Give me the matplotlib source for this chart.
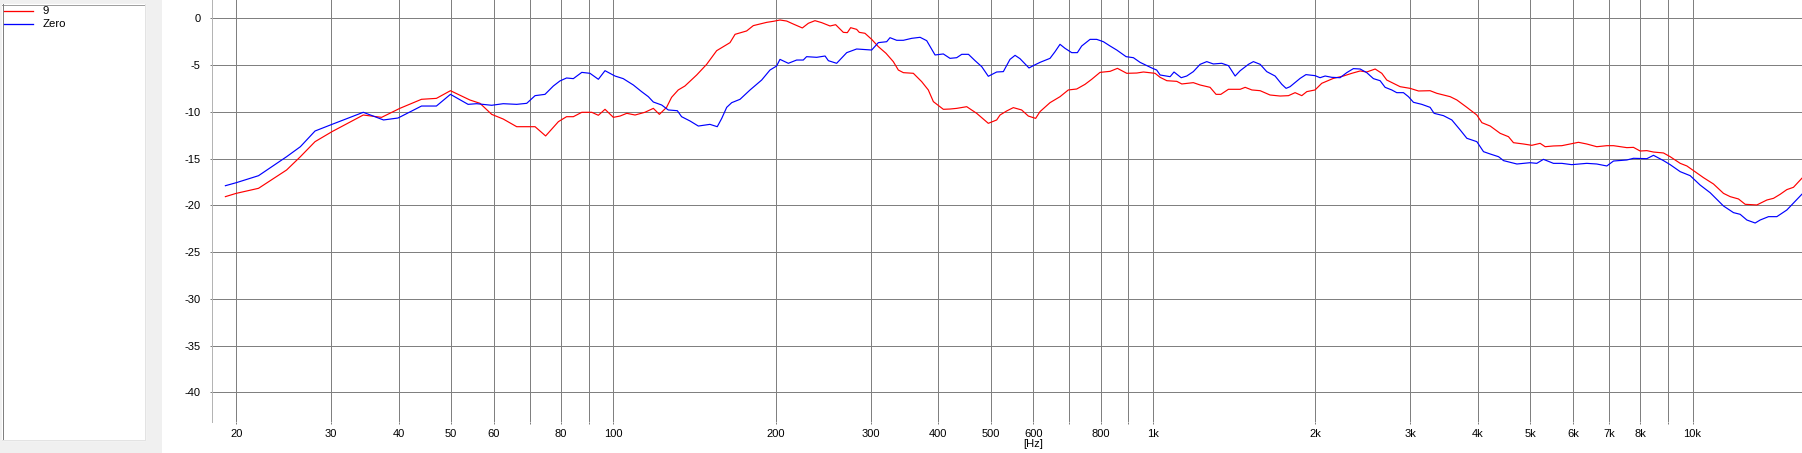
import matplotlib
matplotlib.use('Agg')
import matplotlib.pyplot as plt
import matplotlib.ticker as ticker
from matplotlib.patches import Rectangle

plt.rcParams['font.family'] = ['Liberation Sans', 'DejaVu Sans']

# series "9" (red)
freq_9 = [
    19.1, 20.0, 22.0, 24.8, 26.3, 28.0, 30.1, 34.4, 37.2, 40.2,
    44.1, 47.0, 49.9, 54.2, 56.6, 59.5, 62.5, 66.2, 71.6, 74.9,
    79.1, 81.9, 84.3, 87.4, 91.2, 93.8, 96.5, 100.0, 102.9, 105.9,
    109.7, 114.4, 118.6, 121.7, 125.5, 128.2, 131.9, 135.7, 142.7, 148.9,
    155.4, 164.5, 168.1, 176.6, 181.7, 192.4, 197.9, 203.6, 209.5, 215.5,
    224.0, 229.8, 236.4, 243.2, 252.1, 258.2, 266.8, 271.4, 275.3, 282.4,
    285.6, 292.6, 301.1, 309.8, 320.1, 330.2, 337.4, 344.7, 359.7, 372.7,
    383.4, 391.8, 408.8, 420.6, 432.8, 451.7, 471.3, 495.3, 513.3, 520.7,
    535.6, 551.1, 571.0, 587.5, 606.2, 617.5, 644.5, 672.6, 696.9, 722.2,
    748.3, 770.0, 797.8, 832.8, 859.3, 894.2, 933.3, 960.2, 1009, 1031,
    1061, 1107, 1131, 1188, 1223, 1276, 1309, 1336, 1380, 1451,
    1482, 1525, 1580, 1648, 1720, 1783, 1834, 1887, 1928, 1997,
    2055, 2160, 2254, 2336, 2421, 2490, 2581, 2655, 2712, 2790,
    2871, 2996, 3105, 3263, 3358, 3555, 3657, 3817, 3983, 4070,
    4217, 4400, 4559, 4657, 4860, 5036, 5218, 5331, 5523, 5724,
    5930, 6145, 6367, 6645, 6936, 7136, 7554, 7771, 7996, 8227,
    8464, 8834, 9089, 9487, 9761, 10042, 10478, 10935, 11411, 11741,
    12166, 12518, 13156, 13730, 14126, 14532, 14951, 15382, 15940,
]
db_9 = [
    -19.07, -18.72, -18.18, -16.22, -14.80, -13.19, -12.12, -10.34, -10.59, -9.63,
    -8.66, -8.56, -7.74, -8.73, -9.09, -10.27, -10.77, -11.59, -11.59, -12.58,
    -11.05, -10.52, -10.52, -10.05, -10.05, -10.37, -9.73, -10.59, -10.45, -10.16,
    -10.34, -10.05, -9.63, -10.27, -9.52, -8.45, -7.66, -7.24, -6.06, -4.92,
    -3.46, -2.60, -1.71, -1.35, -0.78, -0.43, -0.32, -0.18, -0.29, -0.61,
    -1.03, -0.53, -0.25, -0.46, -0.82, -0.68, -1.50, -1.53, -1.00, -1.18,
    -1.50, -1.60, -2.25, -3.03, -3.74, -4.63, -5.53, -5.81, -5.88, -6.77,
    -7.66, -8.91, -9.73, -9.70, -9.63, -9.45, -10.16, -11.23, -10.87, -10.34,
    -9.91, -9.55, -9.80, -10.45, -10.70, -9.98, -9.02, -8.38, -7.66, -7.56,
    -7.06, -6.52, -5.78, -5.67, -5.35, -5.88, -5.85, -5.74, -5.88, -6.31,
    -6.67, -6.74, -7.02, -6.88, -7.13, -7.38, -8.13, -8.13, -7.59, -7.59,
    -7.38, -7.66, -7.74, -8.20, -8.31, -8.27, -7.95, -8.27, -7.84, -7.66,
    -6.95, -6.42, -6.17, -5.88, -5.63, -5.74, -5.42, -5.88, -6.60, -6.95,
    -7.31, -7.49, -7.77, -7.74, -8.02, -8.38, -8.73, -9.52, -10.34, -11.16,
    -11.52, -12.30, -12.66, -13.30, -13.44, -13.58, -13.37, -13.73, -13.65, -13.62,
    -13.44, -13.26, -13.44, -13.73, -13.62, -13.62, -13.83, -13.80, -14.19, -14.15,
    -14.30, -14.40, -14.80, -15.51, -15.79, -16.29, -17.04, -17.72, -18.72, -19.07,
    -19.32, -19.89, -19.96, -19.43, -19.25, -18.82, -18.32, -18.07, -17.11,
]

# series "Zero" (blue)
freq_zero = [
    19.1, 20.0, 22.0, 24.8, 26.3, 28.0, 30.1, 34.4, 37.5, 39.9,
    44.1, 47.0, 49.9, 53.8, 55.8, 59.5, 62.5, 66.2, 69.1, 71.6,
    74.7, 77.4, 79.6, 81.9, 84.3, 87.4, 90.5, 93.8, 96.5, 100.7,
    104.3, 108.9, 112.8, 116.1, 118.6, 122.9, 126.4, 131.4, 133.8, 138.7,
    143.7, 151.0, 155.8, 158.8, 162.2, 165.7, 171.7, 179.2, 188.3, 195.1,
    200.7, 203.6, 211.0, 218.6, 224.9, 228.1, 238.1, 246.8, 250.3, 259.3,
    270.7, 282.4, 301.1, 309.8, 321.0, 325.6, 335.0, 344.7, 357.2, 370.2,
    380.8, 394.6, 408.8, 420.6, 432.8, 442.2, 455.1, 468.1, 481.6, 495.3,
    513.3, 528.1, 543.3, 555.2, 566.9, 589.2, 600.2, 617.5, 644.5, 658.4,
    672.6, 687.2, 707.0, 724.3, 737.8, 764.6, 786.6, 809.3, 832.8, 856.8,
    891.7, 919.9, 946.5, 994.9, 1016, 1031, 1076, 1094, 1128, 1155,
    1188, 1223, 1258, 1294, 1341, 1380, 1420, 1451, 1503, 1535,
    1580, 1625, 1684, 1733, 1765, 1795, 1874, 1921, 1997, 2040,
    2085, 2145, 2222, 2286, 2352, 2421, 2490, 2562, 2636, 2693,
    2770, 2830, 2912, 2975, 3039, 3149, 3263, 3319, 3455, 3580,
    3710, 3817, 3983, 4098, 4217, 4370, 4464, 4726, 5000, 5144,
    5292, 5523, 5724, 5972, 6367, 6645, 6936, 7136, 7554, 7771,
    8227, 8464, 8834, 9089, 9487, 9900, 10328, 10780, 11411, 11908,
    12252, 12608, 13062, 13344, 13828, 14328, 14951, 15940,
]
db_zero = [
    -17.90, -17.58, -16.83, -14.80, -13.73, -12.05, -11.34, -10.05, -10.87, -10.66,
    -9.38, -9.38, -8.13, -9.20, -9.13, -9.30, -9.13, -9.20, -9.09, -8.27,
    -8.13, -7.24, -6.70, -6.38, -6.45, -5.78, -5.88, -6.52, -5.60, -6.17,
    -6.45, -7.13, -7.84, -8.38, -8.95, -9.27, -9.80, -9.88, -10.52, -10.98,
    -11.52, -11.34, -11.59, -10.70, -9.52, -9.02, -8.66, -7.66, -6.60, -5.53,
    -5.10, -4.39, -4.81, -4.46, -4.46, -4.10, -4.17, -4.03, -4.53, -4.81,
    -3.67, -3.28, -3.39, -2.60, -2.50, -2.07, -2.35, -2.35, -2.14, -2.03,
    -2.39, -3.92, -3.81, -4.28, -4.21, -3.85, -3.85, -4.53, -5.17, -6.20,
    -5.74, -5.70, -4.39, -3.96, -4.31, -5.31, -5.06, -4.71, -4.28, -3.57,
    -2.78, -3.21, -3.67, -3.67, -2.96, -2.25, -2.25, -2.50, -2.96, -3.39,
    -4.10, -4.21, -4.71, -5.31, -5.53, -6.06, -6.24, -5.74, -6.35, -6.17,
    -5.70, -4.92, -4.63, -4.88, -4.81, -5.06, -6.17, -5.60, -4.92, -4.63,
    -4.92, -5.70, -6.17, -7.06, -7.49, -7.31, -6.42, -6.02, -6.13, -6.35,
    -6.17, -6.31, -6.35, -5.81, -5.38, -5.42, -5.81, -6.45, -6.67, -7.38,
    -7.66, -7.95, -7.95, -8.38, -8.98, -9.20, -9.52, -10.16, -10.41, -10.87,
    -11.94, -12.83, -13.19, -14.26, -14.51, -14.80, -15.22, -15.58, -15.44, -15.51,
    -15.08, -15.51, -15.51, -15.65, -15.51, -15.58, -15.79, -15.26, -15.15, -14.97,
    -15.01, -14.65, -15.22, -15.65, -16.40, -16.83, -17.83, -18.65, -20.07, -20.78,
    -20.96, -21.57, -21.89, -21.57, -21.21, -21.21, -20.50, -18.82,
]

series_names = ['9', 'Zero']
series_colors = ['#ff0000', '#0000ff']

x_ticks = [20, 30, 40, 50, 60, 70, 80, 90, 100, 200, 300, 400, 500, 600, 700,
           800, 900, 1000, 2000, 3000, 4000, 5000, 6000, 7000, 8000, 9000, 10000]
x_tick_labels = ['20', '30', '40', '50', '60', '', '80', '', '100', '200', '300',
                 '400', '500', '600', '', '800', '', '1k', '2k', '3k', '4k', '5k',
                 '6k', '7k', '8k', '', '10k']
y_ticks = [0, -5, -10, -15, -20, -25, -30, -35, -40]

W, H = 1802, 453
PX = 0.72  # one pixel in points at dpi 100

fig = plt.figure(figsize=(W / 100, H / 100), dpi=100)
fig.patch.set_facecolor('white')

# left side panel with the legend list
side = fig.add_axes([0, 0, 162 / W, 1])
side.set_xlim(0, 162)
side.set_ylim(H, 0)
side.axis('off')
side.add_patch(Rectangle((0, 0), 162, H, color='#f0f0f0', zorder=0))
side.add_patch(Rectangle((2, 4), 143, 435.5, color='white', zorder=1))
side.plot([2, 145], [4.5, 4.5], color='#a0a0a0', lw=PX, zorder=2)
side.plot([2.5, 2.5], [4, 439.5], color='#808080', lw=PX, zorder=2)
side.plot([145, 145], [4, 439.5], color='#e3e3e3', lw=PX, zorder=2)
side.plot([2, 145], [439.5, 439.5], color='#e3e3e3', lw=PX, zorder=2)
side.plot([161.5, 161.5], [0, H], color='#a0a0a0', lw=PX, zorder=2)
for i, (name, col) in enumerate(zip(series_names, series_colors)):
    y = 11.3 + 13 * i
    side.plot([4, 33], [y, y], color=col, lw=PX * 1.3, zorder=3)
    side.text(42.5, y, name, fontsize=8.2, va='center', ha='left', zorder=3)

# main chart; right edge (20 kHz) lies outside the cropped picture
left_px, right_px, bottom_px = 211.5, 1855, 421.7
ax = fig.add_axes([left_px / W, 1 - bottom_px / H,
                   (right_px - left_px) / W, bottom_px / H])
ax.set_facecolor('white')

ax.semilogx(freq_9, db_9, color=series_colors[0], lw=0.85, label=series_names[0])
ax.semilogx(freq_zero, db_zero, color=series_colors[1], lw=0.85, label=series_names[1])

ax.set_xlim(18, 20000)
ax.set_ylim(-43.14, 1.96)

ax.xaxis.set_minor_locator(ticker.NullLocator())
ax.set_xticks(x_ticks, x_tick_labels)
ax.set_yticks(y_ticks, [str(v) for v in y_ticks])

ax.grid(True, which='major', axis='both', color='#808080', linewidth=PX)
ax.set_axisbelow(True)
for s in ('top', 'right', 'bottom'):
    ax.spines[s].set_visible(False)
ax.spines['left'].set_color('#b4b4b4')
ax.spines['left'].set_linewidth(PX)

ax.tick_params(axis='x', length=1.5, width=PX, color='#808080', pad=3.5, labelsize=8)
ax.tick_params(axis='y', length=1.2, width=PX, color='#808080', pad=6.5, labelsize=8)
ax.set_xlabel('[Hz]', fontsize=8, labelpad=0)

fig.savefig('out.png', dpi=100)
